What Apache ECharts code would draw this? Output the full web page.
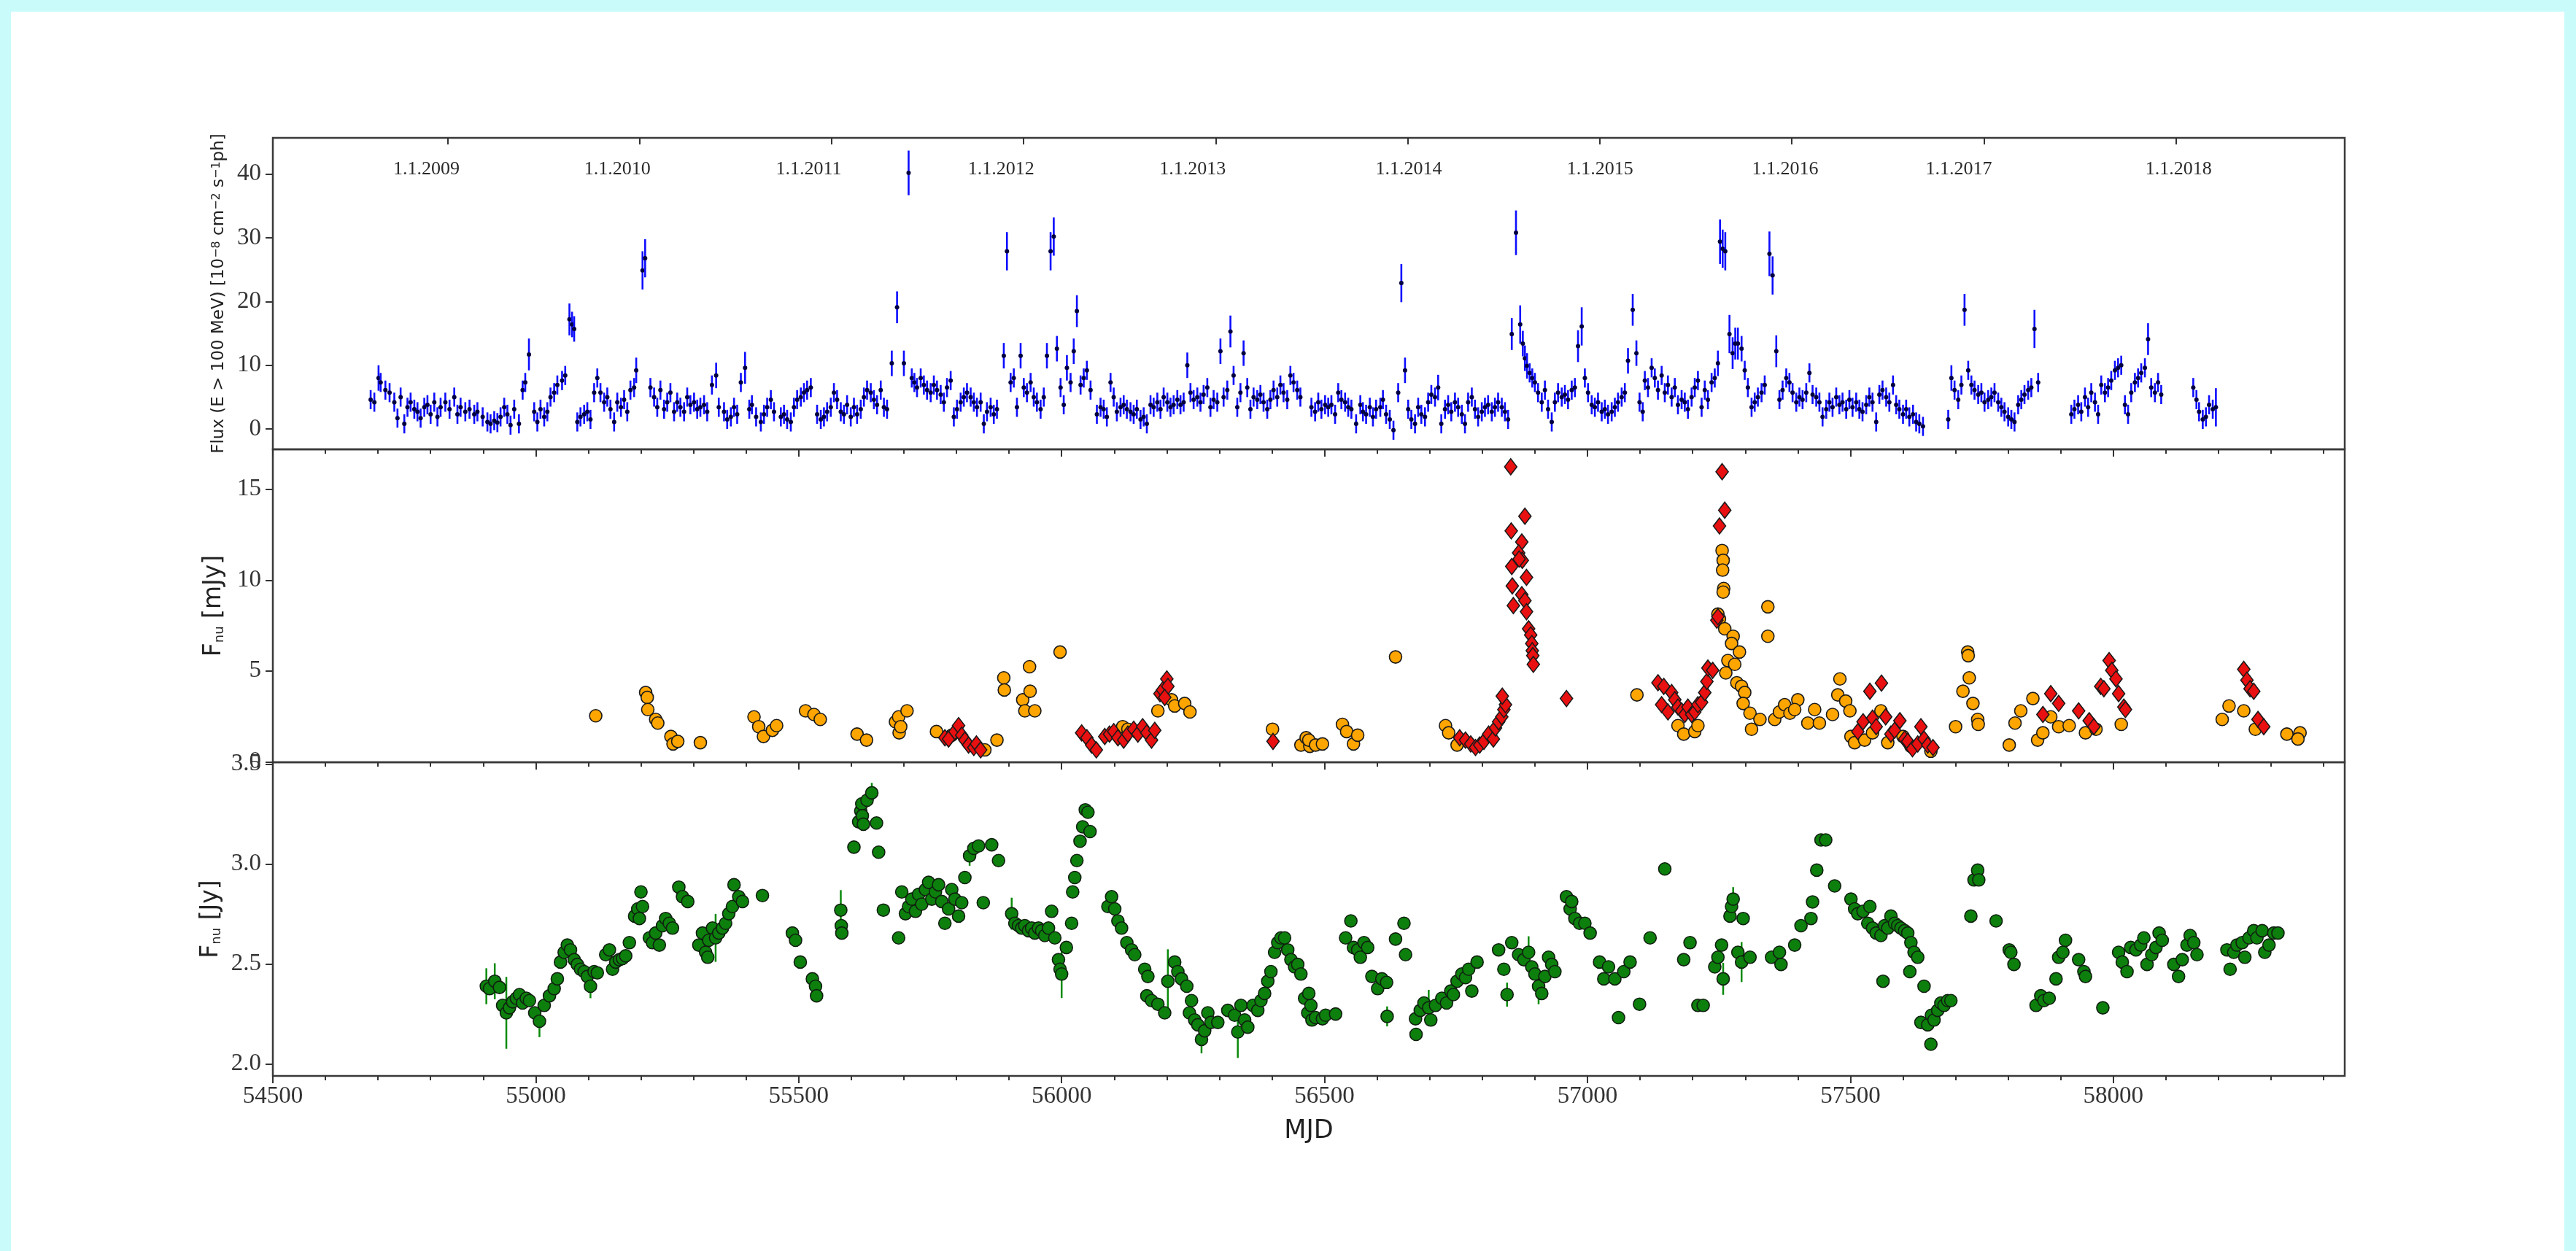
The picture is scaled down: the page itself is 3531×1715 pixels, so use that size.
<!DOCTYPE html>
<html>
<head>
<meta charset="utf-8">
<script src="https://cdn.jsdelivr.net/npm/echarts@6/dist/echarts.min.js"></script>
<style>
html,body{margin:0;padding:0;background:#c9fbfb;width:3531px;height:1715px;overflow:hidden;}
#paper{position:absolute;left:15px;top:16px;width:3500px;height:1699px;background:#ffffff;}
#chart{position:absolute;left:0;top:0;width:3531px;height:1715px;}
</style>
</head>
<body>
<div id="paper"></div>
<div id="chart"></div>
<script>
// ---------------- data ----------------
const xMajorTicks = [54500, 55000, 55500, 56000, 56500, 57000, 57500, 58000];
const xMinorTicks = [54600,54700,54800,54900,55100,55200,55300,55400,55600,55700,55800,55900,56100,56200,56300,56400,56600,56700,56800,56900,57100,57200,57300,57400,57600,57700,57800,57900,58100,58200,58300,58400];
const yearTickMjd = [54832, 55197, 55562, 55927, 56293, 56658, 57023, 57388, 57754, 58119];
const yearLabelMjd = [54792, 55155, 55519, 55885, 56249, 56660, 57024, 57376, 57706, 58124];
const yearLabels = ['1.1.2009','1.1.2010','1.1.2011','1.1.2012','1.1.2013','1.1.2014','1.1.2015','1.1.2016','1.1.2017','1.1.2018'];
const gammaTicks = [0, 10, 20, 30, 40];
const opticalTicks = [0, 5, 10, 15];
const radioTicks = [2.0, 2.5, 3.0, 3.5];

// gamma-ray flux [MJD, flux, (error)]
const gammaFlux = [
[54686,4.6],[54693,4.2],[54701,8.0,2],[54705,7.3],[54714,6.1],[54722,5.7],[54731,4.2],[54737,1.7],[54743,5.0],[54750,0.8],[54756,3.4],[54762,4.2],[54769,3.1],[54775,2.7],[54781,1.7],[54788,3.4],[54794,3.8],[54800,2.3],[54807,4.2],[54813,1.9],[54819,3.4],[54828,4.2],[54836,3.1],[54845,5.0],[54851,2.3],[54857,3.4],[54866,2.7],[54874,3.1],[54883,2.3],[54889,2.7],[54899,1.9],[54908,1.1],[54914,0.8],[54921,1.3],[54927,1.0],[54933,1.9],[54940,3.4],[54946,2.3],[54952,0.6],[54959,3.1],[54968,0.8],[54975,6.1],[54980,7.3],[54987,11.7,2.5],[54997,2.7],[55003,1.1],[55009,3.1],[55016,1.9],[55022,2.7],[55028,5.0],[55035,5.7],[55041,6.9],[55050,7.6],[55056,8.4],[55064,17.2,2.5],[55069,16.4,2],[55073,15.7,2],[55079,1.1],[55085,1.9],[55092,2.3],[55098,2.7],[55104,1.5],[55111,5.7],[55117,8.0],[55123,5.7],[55130,4.2],[55136,5.0],[55142,3.1],[55149,1.1],[55155,4.2],[55162,3.4],[55168,4.6],[55174,2.7],[55180,6.1],[55187,6.5],[55191,9.2,2],[55203,24.9,3],[55208,26.8,3],[55218,6.5],[55225,5.0],[55231,3.4],[55237,6.1],[55244,3.1],[55250,4.2],[55256,5.7],[55263,2.7],[55269,4.2],[55275,3.4],[55282,2.7],[55288,5.0],[55294,3.8],[55301,4.2],[55307,3.1],[55313,3.4],[55320,3.8],[55326,2.7],[55335,6.9],[55343,8.4,2],[55348,3.4],[55358,2.7],[55364,1.5],[55371,1.9],[55377,3.4],[55383,2.3],[55390,7.3],[55398,9.6,2.5],[55406,3.1],[55411,3.8],[55419,1.9],[55428,1.1],[55434,2.3],[55440,3.4],[55447,4.6],[55453,2.7],[55466,1.9],[55472,2.3],[55478,1.5],[55485,1.1],[55491,3.4],[55497,4.6],[55504,5.0],[55510,5.7],[55516,6.1],[55523,6.5],[55535,2.3],[55542,1.5],[55548,1.9],[55554,2.7],[55561,3.4],[55567,5.7],[55573,4.6],[55580,2.7],[55586,2.3],[55592,3.8],[55599,1.9],[55605,3.4],[55611,2.3],[55618,3.1],[55624,5.0],[55630,6.1],[55637,5.7],[55643,4.6],[55649,3.8],[55656,6.1],[55662,3.4],[55668,3.1],[55677,10.3,2],[55687,19.1,2.5],[55700,10.3,2],[55709,40.2,3.5],[55715,8.0],[55720,7.3],[55725,6.5],[55732,8.0],[55738,6.9],[55744,6.1],[55751,5.7],[55757,6.9],[55763,6.1],[55770,5.4],[55776,4.2],[55782,6.5],[55789,7.6],[55795,1.9],[55801,3.1],[55808,4.2],[55814,5.0],[55820,5.7],[55827,5.0],[55833,4.2],[55839,3.4],[55846,4.2],[55852,0.8],[55858,2.7],[55865,3.4],[55871,2.3],[55877,3.1],[55890,11.5,2],[55896,27.9,3],[55903,7.3],[55909,8.0],[55915,3.4],[55922,11.5,2],[55928,6.5],[55934,5.7],[55941,7.3],[55947,5.0],[55953,4.2],[55960,3.1],[55966,5.0],[55972,11.5,2],[55979,27.9,3],[55985,30.2,3],[55991,12.6,2],[55998,6.5],[56004,3.8],[56010,9.6,2],[56017,7.3],[56023,12.2,2],[56029,18.5,2.5],[56036,6.9],[56042,8.0],[56048,9.2],[56055,6.1],[56067,2.3],[56074,3.4],[56080,3.1],[56086,1.9],[56093,7.3],[56099,5.0],[56105,2.7],[56112,3.4],[56118,3.8],[56124,3.1],[56131,2.7],[56137,2.3],[56143,3.1],[56150,1.5],[56156,1.9],[56162,0.8],[56169,3.8],[56175,3.4],[56182,4.2],[56188,3.1],[56194,5.0],[56201,4.2],[56207,3.4],[56213,3.8],[56220,4.6],[56226,3.8],[56232,4.2],[56239,10.0,2],[56245,5.7],[56251,4.6],[56258,5.0],[56264,4.2],[56270,5.4],[56277,6.5],[56283,3.4],[56289,4.6],[56296,4.2],[56302,12.2,2],[56308,5.0],[56315,6.1],[56321,15.3,2.5],[56327,8.4],[56334,3.4],[56340,5.7],[56346,11.9,2],[56353,6.5],[56359,3.1],[56365,5.0],[56372,4.6],[56378,5.4],[56384,4.2],[56391,3.1],[56397,4.6],[56403,6.1],[56410,5.0],[56416,6.9],[56422,5.7],[56429,4.6],[56435,8.4],[56441,7.3],[56448,6.1],[56454,5.0],
[56475,3.4],[56482,2.7],[56488,4.2],[56494,3.1],[56501,3.8],[56507,3.4],[56513,3.8],[56520,2.3],[56526,5.7],[56532,4.6],[56539,4.2],[56545,3.4],[56551,3.1],[56560,0.8],[56568,3.8],[56573,2.7],[56579,2.3],[56586,3.4],[56592,1.9],[56598,3.1],[56606,3.4],[56611,4.6],[56617,2.3],[56624,1.5],[56631,-0.2],[56640,5.7],[56646,22.9,3],[56653,9.2,2],[56659,3.1],[56665,1.5],[56672,0.8],[56678,3.4],[56684,2.3],[56691,1.9],[56697,4.2],[56703,5.4],[56710,5.0],[56716,6.5,2],[56722,0.8],[56729,3.1],[56735,3.8],[56741,2.7],[56748,4.2],[56754,3.4],[56761,2.3],[56767,0.8],[56773,4.2],[56780,5.0],[56786,3.1],[56792,1.9],[56799,2.7],[56805,3.4],[56811,3.8],[56818,2.7],[56824,3.4],[56830,4.2],[56837,3.4],[56843,2.7],[56849,1.5],[56856,14.9,2.5],[56864,30.8,3.5],[56872,16.4,3],[56877,13.4,2],[56881,11.1,2],[56885,9.9,2],[56890,8.8],[56895,8.0],[56900,7.3],[56906,5.7],[56913,4.2],[56919,6.1],[56925,3.1],[56932,1.1],[56938,4.2],[56944,5.7],[56951,5.0],[56957,5.4],[56963,4.6],[56970,6.1],[56976,6.5],[56982,13.0,2.5],[56989,16.1,3],[56995,8.0],[57001,5.7],[57008,3.8],[57014,3.4],[57020,4.2],[57027,2.7],[57033,3.1],[57039,2.3],[57046,2.7],[57052,3.4],[57058,4.2],[57065,5.0],[57071,5.7],[57077,10.7,2],[57086,18.7,2.5],[57093,11.9,2],[57099,4.2],[57105,2.7],[57109,7.6],[57115,6.5],[57122,9.6],[57128,8.0],[57134,6.1],[57141,8.4],[57147,5.7],[57153,6.9],[57160,5.0],[57166,6.5],[57172,3.8],[57179,4.6],[57185,4.2],[57191,3.1],[57198,5.0],[57204,6.5],[57210,7.6],[57217,3.4],[57223,6.1],[57229,4.6],[57236,7.3],[57242,8.0],[57248,10.3,2],[57252,29.4,3.5],[57257,28.3,3],[57262,27.9,3],[57270,14.9,3],[57276,11.9,2.5],[57281,13.4,2.5],[57286,13.4,2.5],[57293,12.6,2],[57299,9.2],[57305,6.5],[57312,3.4],[57318,4.2],[57324,5.0],[57331,5.7],[57337,6.9],[57346,27.5,3.5],[57352,24.1,3],[57359,12.2,2.5],[57365,4.6],[57371,6.1],[57378,8.0],[57384,7.3],[57390,5.7],[57397,4.2],[57403,5.0],[57409,4.6],[57416,5.7],[57422,8.8],[57428,5.4],[57435,5.0],[57441,4.2],[57447,1.9],[57454,3.1],[57460,4.2],[57466,3.4],[57473,5.0],[57479,3.8],[57485,4.2],[57492,3.1],[57498,4.6],[57504,3.4],[57511,4.2],[57517,3.1],[57523,2.7],[57530,3.8],[57536,5.0],[57542,4.2],[57549,1.1],[57555,5.4],[57561,6.1],[57568,5.0],[57574,4.2],[57581,6.9],[57587,3.8],[57593,3.1],[57600,2.3],[57606,3.1],[57612,1.9],[57619,2.3],[57625,1.1],[57631,0.8],[57638,0.4],[57686,1.5],[57692,8.0,2],[57698,6.1],[57705,4.6],[57711,6.9],[57717,18.7,2.5],[57724,9.2],[57730,6.9],[57736,6.1],[57743,5.4],[57749,5.7],[57755,4.2],[57762,4.6],[57768,5.0],[57774,5.7],[57781,4.2],[57787,3.4],[57793,2.7],[57800,1.9],[57806,1.5],[57812,1.1],[57819,3.8],[57825,4.6],[57831,5.4],[57838,6.1],[57844,6.5],[57850,15.7,3],[57857,7.3],[57920,2.3],[57926,3.1],[57933,3.8],[57939,2.7],[57946,5.0],[57952,3.4],[57958,5.7],[57965,4.2],[57971,2.3],[57977,6.9],[57984,5.7],[57990,6.5],[57996,7.6],[58003,9.2],[58009,9.6],[58015,10.0],[58022,3.8],[58028,2.3],[58034,5.7],[58041,7.3],[58047,8.0],[58053,8.8],[58060,9.6],[58066,14.1,2.5],[58072,6.5],[58079,5.7],[58085,7.3],[58091,5.4],[58152,6.5],[58158,4.6],[58163,2.7],[58170,1.5],[58176,1.9],[58182,3.8],[58189,3.1],[58195,3.4,3]
];
const gammaErrDefault = 1.5;

// optical flux density, orange circles [MJD, mJy]
const opticalOrange = [
[55114,2.53],[55209,3.81],[55212,3.54],[55213,2.87],[55228,2.33],[55232,2.13],[55257,1.39],[55261,0.98],[55270,1.12],[55313,1.05],[55415,2.47],[55424,1.93],[55433,1.39],[55450,1.73],[55458,1.99],[55513,2.80],[55529,2.60],[55541,2.33],[55611,1.52],[55629,1.19],[55684,2.20],[55690,2.47],[55691,1.59],[55694,1.93],[55706,2.80],[55762,1.66],[55791,1.46],[55854,0.65],[55877,1.19],[55890,4.62],[55891,3.95],[55926,3.41],[55930,2.80],[55939,5.23],[55940,3.88],[55949,2.80],[55997,6.04],[56116,1.93],[56126,1.79],[56183,2.80],[56209,3.41],[56215,3.07],[56234,3.21],[56244,2.74],[56401,1.79],[56455,0.92],[56465,1.32],[56472,0.85],
[56470,1.19],[56483,0.92],[56496,0.98],[56534,2.06],[56542,1.66],[56555,0.98],[56563,1.46],[56635,5.77],[56730,1.99],[56736,1.59],[56752,0.92],[57094,3.68],[57172,1.99],[57183,1.52],[57204,1.66],[57210,1.99],[57256,11.63],[57258,11.09],[57257,10.55],[57259,9.54],[57258,9.34],[57248,8.13],[57251,7.86],[57261,7.32],[57277,6.91],[57274,6.51],[57289,6.04],[57267,5.57],[57280,5.36],[57263,4.89],[57284,4.35],[57293,4.15],[57299,3.81],[57296,3.21],[57309,2.67],[57328,2.33],[57312,1.79],[57343,8.53],[57343,6.91],[57356,2.33],[57365,2.74],[57375,3.14],[57385,2.67],[57400,3.41],[57394,2.87],[57419,2.13],[57432,2.87],[57441,2.13],[57466,2.60],[57480,4.56],[57476,3.68],[57491,3.34],[57499,2.80],[57501,1.39],[57508,1.05],[57527,1.19],[57542,1.59],[57558,2.80],[57571,1.05],[57600,1.39],[57615,0.85],[57653,0.58],[57700,1.93],[57723,6.04],[57724,5.84],[57726,4.62],[57714,3.88],[57733,3.21],[57742,2.33],[57743,2.06],[57802,0.92],[57813,2.13],[57824,2.80],[57847,3.48],[57856,1.19],[57866,1.59],[57881,2.47],[57896,1.93],[57916,1.99],[57947,1.59],[57967,1.79],[58015,2.06],[58207,2.33],[58220,3.07],[58248,2.80],[58270,1.79],[58330,1.52],[58355,1.59],[58351,1.25]
];

// optical flux density, red diamonds [MJD, mJy]
const opticalRed = [
[55778,1.32],[55785,1.25],[55797,1.66],[55804,1.99],[55810,1.46],[55816,1.19],[55823,0.92],[55833,0.78],[55838,0.98],[55846,0.65],[56038,1.59],[56048,1.32],[56057,0.92],[56066,0.65],[56082,1.39],[56091,1.52],[56099,1.66],[56107,1.32],[56118,1.19],[56126,1.52],[56137,1.79],[56145,1.52],[56154,1.93],[56162,1.59],[56171,1.19],[56177,1.73],[56187,3.75],[56192,3.95],[56200,4.56],[56202,4.15],[56196,3.54],[56402,1.12],
[56757,1.32],[56768,1.19],[56778,0.98],[56787,0.78],[56795,0.92],[56803,1.12],[56812,1.52],[56821,1.25],[56825,1.86],[56831,2.20],[56837,2.47],[56841,2.87],[56844,3.14],[56838,3.61],[56854,16.24],[56855,12.71],[56881,13.52],[56875,12.10],[56869,11.50],[56876,11.09],[56856,10.75],[56884,10.15],[56857,9.68],[56875,9.20],[56881,8.87],[56859,8.60],[56884,8.26],[56888,7.32],[56892,6.98],[56894,6.51],[56895,6.11],[56896,5.84],[56897,5.36],[56870,11.16],[56960,3.48],
[57134,4.35],[57145,4.15],[57141,3.14],[57153,2.74],[57160,3.81],[57166,3.41],[57172,3.01],[57179,2.80],[57185,2.60],[57191,3.01],[57198,2.60],[57204,2.74],[57210,3.14],[57217,3.27],[57223,3.81],[57227,4.42],[57229,5.16],[57238,5.03],[57246,7.79],[57248,7.99],[57256,15.97],[57261,13.85],[57251,12.98],
[57514,1.66],[57524,2.20],[57537,3.88],[57542,2.40],[57549,1.93],[57559,4.33],[57567,2.47],[57577,1.52],[57584,1.73],[57594,2.26],[57603,1.25],[57609,1.12],[57618,0.71],[57628,0.98],[57634,1.93],[57640,1.25],[57647,0.92],[57657,0.78],
[57866,2.60],[57881,3.75],[57896,3.21],[57934,2.80],[57954,2.26],[57963,1.93],[57976,4.15],[57982,4.02],[57992,5.57],[57997,5.03],[58005,4.56],[58010,3.75],[58020,3.01],[58023,2.87],
[58248,5.09],[58254,4.49],[58260,4.02],[58267,3.88],[58275,2.33],[58286,1.93]
];

// radio flux density [MJD, Jy, (error)]
const radioFlux = [
[54906,2.389,0.09],[54912,2.377],[54922,2.414,0.09],[54931,2.383],[54937,2.293],[54944,2.256,0.18],[54950,2.281],[54956,2.311],[54963,2.329],[54969,2.347],[54975,2.305],[54982,2.329],[54988,2.317],[54998,2.256],[55007,2.214,0.08],[55016,2.293],[55026,2.341],[55035,2.377],[55041,2.426],[55047,2.510],[55054,2.559],[55060,2.595],[55066,2.571],[55073,2.522],[55079,2.498],[55085,2.474],[55092,2.462],[55098,2.438],[55104,2.389,0.06],[55111,2.462],[55117,2.456],[55133,2.547],[55140,2.571],[55146,2.474],[55152,2.510],[55159,2.522],[55165,2.528],[55171,2.541],[55178,2.607],[55188,2.740],[55194,2.776],[55197,2.728],[55200,2.861],[55203,2.788],[55216,2.631],[55222,2.607],[55228,2.655],[55235,2.595],[55241,2.692],[55247,2.728],[55254,2.704],[55260,2.680],[55272,2.885],[55279,2.837],[55289,2.813],[55310,2.595],[55317,2.655],[55323,2.559],[55327,2.534],[55329,2.619],[55336,2.680],[55342,2.631,0.12],[55348,2.655],[55355,2.680],[55361,2.704],[55367,2.752],[55374,2.788],[55377,2.897],[55386,2.837],[55393,2.813],[55431,2.843],[55488,2.655],[55494,2.619],[55503,2.510],[55526,2.426],[55532,2.389],[55534,2.341],[55580,2.770,0.1],[55581,2.692],[55582,2.655],[55605,3.085],[55614,3.212],[55618,3.266],[55620,3.302],[55621,3.242],[55623,3.200],[55630,3.320],[55639,3.357,0.05],[55648,3.206],[55652,3.060],[55661,2.770],[55690,2.631],[55696,2.861],[55703,2.752],[55709,2.788],[55715,2.825],[55722,2.764],[55728,2.849],[55734,2.800],[55741,2.873],[55747,2.909],[55753,2.825],[55760,2.861],[55766,2.897],[55772,2.813],[55778,2.704],[55785,2.776],[55791,2.873],[55797,2.825],[55804,2.740],[55810,2.807],[55816,2.933],[55825,3.042,0.05],[55833,3.079],[55842,3.091],[55851,2.807],[55867,3.097],[55880,3.018],[55905,2.752,0.08],[55911,2.704],[55918,2.692],[55924,2.680],[55930,2.692],[55937,2.667],[55943,2.680],[55949,2.655],[55956,2.680],[55962,2.667],[55968,2.643],[55975,2.680],[55981,2.764],[55987,2.631],[55994,2.522],[55997,2.474],[56000,2.450,0.12],[56009,2.583],[56019,2.704],[56021,2.861],[56025,2.933],[56029,3.018],[56035,3.115],[56040,3.187],[56045,3.272],[56050,3.260],[56054,3.163],[56088,2.788],[56095,2.837],[56101,2.776],[56107,2.716],[56114,2.680],[56124,2.607],[56133,2.571],[56139,2.547],[56158,2.474],[56164,2.438],[56162,2.341],[56171,2.317],[56183,2.299],[56196,2.256],[56202,2.414,0.16],[56215,2.510],[56221,2.462],[56228,2.426],[56238,2.389],[56247,2.317],[56243,2.256],[56253,2.220],[56259,2.196],[56266,2.123,0.07],[56272,2.166],[56278,2.256],[56284,2.208],[56297,2.208],[56316,2.268],[56329,2.244],[56335,2.160,0.13],[56341,2.293],[56348,2.220],[56354,2.184],[56364,2.293],[56373,2.268],[56379,2.317],[56386,2.353],[56392,2.414],[56398,2.462],[56405,2.559],[56411,2.607],[56417,2.631],[56424,2.631],[56430,2.571],[56436,2.522],[56443,2.486],[56449,2.498],[56455,2.450],[56462,2.329],[56468,2.256],[56474,2.293],
[56470,2.353],[56476,2.220],[56483,2.232],[56496,2.226],[56502,2.244],[56521,2.250],[56540,2.631],[56550,2.716],[56555,2.583],[56563,2.571],[56568,2.534],[56575,2.607],[56582,2.583],[56590,2.438],[56601,2.377],[56609,2.426],[56618,2.408],[56619,2.238,0.05],[56635,2.625],[56651,2.704],[56654,2.547],[56673,2.226],[56674,2.148],[56682,2.268],[56689,2.305],[56698,2.281,0.09],[56702,2.220],[56711,2.293],[56723,2.329],[56732,2.305],[56740,2.365],[56745,2.347],[56752,2.414],[56761,2.450],[56768,2.432],[56774,2.474],[56780,2.365],[56790,2.510],[56831,2.571],[56841,2.474],[56847,2.347,0.06],[56856,2.607],[56869,2.547],[56879,2.522],[56888,2.559,0.08],[56894,2.486],[56900,2.450],[56907,2.389,0.09],[56913,2.353],[56919,2.438],[56926,2.534],[56932,2.498],[56938,2.462],[56960,2.837],[56967,2.776],[56970,2.813],[56976,2.728],[56985,2.704],[56995,2.704],[57005,2.655],[57023,2.510],[57031,2.426],[57040,2.486],[57052,2.426],[57059,2.232],[57069,2.462],[57081,2.510],[57099,2.299],[57119,2.631],[57147,2.976],[57183,2.522],[57195,2.607],[57210,2.293],[57220,2.293],[57242,2.486],[57248,2.534],[57255,2.595],[57258,2.426,0.08],[57271,2.740],[57274,2.788],[57277,2.825,0.06],[57286,2.559],[57293,2.510,0.1],[57296,2.728],[57309,2.534],[57350,2.534],[57365,2.559],[57368,2.498],[57394,2.595],[57406,2.692],[57425,2.728],[57428,2.811],[57436,2.970],[57444,3.121],[57453,3.121],[57470,2.891],[57501,2.825],[57508,2.776],[57514,2.752],[57524,2.764],[57533,2.704],[57537,2.788],[57542,2.680],[57549,2.655],[57558,2.643],[57562,2.414],[57565,2.692],[57571,2.680],[57577,2.740],[57584,2.704],[57590,2.692],[57596,2.680],[57603,2.667],[57609,2.655],[57613,2.462],[57615,2.607],[57621,2.559],[57628,2.534],[57634,2.208],[57640,2.389],[57647,2.196],[57653,2.099],[57654,2.244],[57659,2.220],[57666,2.268],[57672,2.305],[57678,2.293],[57685,2.317],[57691,2.317],[57729,2.740],[57735,2.921],[57742,2.970],[57744,2.921],[57777,2.716],[57802,2.571],[57805,2.559],[57811,2.498],[57853,2.293],[57862,2.341],[57868,2.317],[57878,2.329],[57891,2.426],[57896,2.534],[57904,2.559],[57909,2.619],[57934,2.522],[57944,2.462],[57947,2.438],[57980,2.281],[58010,2.559],[58017,2.510],[58026,2.462],[58033,2.583],[58043,2.571],[58052,2.595],[58058,2.631],[58064,2.498],[58073,2.547],[58081,2.583],[58087,2.655],[58093,2.619],[58115,2.498],[58124,2.438],[58131,2.522],[58140,2.595],[58146,2.643],[58153,2.607],[58159,2.547],[58216,2.571],[58222,2.474],[58229,2.559],[58235,2.595],[58245,2.607],[58250,2.534],[58258,2.631],[58267,2.667],[58273,2.631],[58283,2.667],[58288,2.559],[58296,2.595],[58305,2.655],[58313,2.655]
];
const radioErrDefault = 0.03;

// ---------------- chart ----------------
const X_MIN = 54500, X_MAX = 58440;
const SERIF = '"Liberation Serif", "DejaVu Serif", serif';
const SANS = '"DejaVu Sans", "Liberation Sans", sans-serif';
const AX = '#333333';
const GRID_L = 374, GRID_W = 2840;

function withErr(arr, def) { return arr.map(d => [d[0], d[1], d.length > 2 ? d[2] : def]); }

function errRender(color, lw, dot) {
  return function (params, api) {
    const x = api.value(0), y = api.value(1), e = api.value(2);
    const p0 = api.coord([x, y - e]), p1 = api.coord([x, y + e]);
    const ch = [{ type: 'line', shape: { x1: p0[0], y1: p0[1], x2: p1[0], y2: p1[1] }, style: { stroke: color, lineWidth: lw } }];
    if (dot) {
      const pc = api.coord([x, y]);
      ch.push({ type: 'circle', shape: { cx: pc[0], cy: pc[1], r: dot.r }, style: { fill: dot.color } });
    }
    return { type: 'group', children: ch };
  };
}

function xMajor(grid, showLabel) {
  return {
    type: 'value', gridIndex: grid, position: 'bottom', min: X_MIN, max: X_MAX,
    axisLine: { show: false, onZero: false },
    splitLine: { show: false },
    axisTick: { show: true, inside: false, length: 10, customValues: xMajorTicks, lineStyle: { color: AX, width: 2 } },
    axisLabel: { show: showLabel, customValues: xMajorTicks, margin: 12, fontFamily: SERIF, fontSize: 33, color: AX, formatter: v => String(v) }
  };
}
function xMinor(grid) {
  return {
    type: 'value', gridIndex: grid, position: 'bottom', min: X_MIN, max: X_MAX,
    axisLine: { show: false, onZero: false },
    splitLine: { show: false },
    axisTick: { show: true, inside: false, length: 6, customValues: xMinorTicks, lineStyle: { color: AX, width: 2 } },
    axisLabel: { show: false }
  };
}
function yAx(grid, min, max, ticks, name, nameGap, rich, fmt) {
  return {
    type: 'value', gridIndex: grid, min: min, max: max, position: 'left',
    axisLine: { show: false, onZero: false },
    splitLine: { show: false },
    axisTick: { show: true, inside: false, length: 10, customValues: ticks, lineStyle: { color: AX, width: 2 } },
    axisLabel: { customValues: ticks, margin: 16, fontFamily: SERIF, fontSize: 33, color: AX, formatter: fmt },
    name: name, nameLocation: 'middle', nameRotate: 90, nameGap: nameGap,
    nameTextStyle: { rich: rich }
  };
}

const gridBase = { left: GRID_L, width: GRID_W, show: true, borderColor: '#3a3a3a', borderWidth: 2.5, backgroundColor: 'transparent' };

const option = {
  animation: false,
  backgroundColor: 'transparent',
  grid: [
    Object.assign({ top: 189, height: 427 }, gridBase),
    Object.assign({ top: 616, height: 429 }, gridBase),
    Object.assign({ top: 1045, height: 430 }, gridBase)
  ],
  xAxis: [
    xMajor(0, false), xMinor(0),
    {
      type: 'value', gridIndex: 0, position: 'top', min: X_MIN, max: X_MAX,
      axisLine: { show: false, onZero: false }, splitLine: { show: false },
      axisTick: { show: true, inside: true, length: 9, customValues: yearTickMjd, lineStyle: { color: AX, width: 2 } },
      axisLabel: { show: true, inside: true, margin: 30, customValues: yearLabelMjd, fontFamily: SERIF, fontSize: 26, color: '#2a2a2a',
        formatter: v => { const i = yearLabelMjd.indexOf(v); return i >= 0 ? yearLabels[i] : ''; } }
    },
    xMajor(1, false), xMinor(1),
    Object.assign(xMajor(2, true), { name: 'MJD', nameLocation: 'middle', nameGap: 58,
      nameTextStyle: { fontFamily: SANS, fontSize: 35, color: '#222', verticalAlign: 'top' } }),
    xMinor(2)
  ],
  yAxis: [
    yAx(0, -3.2, 45.7, gammaTicks,
      '{a|Flux (E > 100 MeV) [10}{s|−8}{a| cm}{s|−2}{a| s}{s|−1}{a|ph]}', 62,
      { a: { fontFamily: SANS, fontSize: 23, color: '#222', verticalAlign: 'bottom', padding: [0, 0, 0, 0] },
        s: { fontFamily: SANS, fontSize: 16, color: '#222', verticalAlign: 'top' } },
      v => String(v)),
    yAx(1, -0.03, 17.2, opticalTicks, '{a|F}{s|nu}{a| [mJy]}', 64,
      { a: { fontFamily: SANS, fontSize: 33, color: '#222', verticalAlign: 'top' },
        s: { fontFamily: SANS, fontSize: 18, color: '#222', verticalAlign: 'bottom' } },
      v => String(v)),
    yAx(2, 1.94, 3.51, radioTicks, '{a|F}{s|nu}{a| [Jy]}', 64,
      { a: { fontFamily: SANS, fontSize: 33, color: '#222', verticalAlign: 'top' },
        s: { fontFamily: SANS, fontSize: 18, color: '#222', verticalAlign: 'bottom' } },
      v => v.toFixed(1))
  ],
  series: [
    {
      name: 'gamma', type: 'custom', xAxisIndex: 0, yAxisIndex: 0, clip: true,
      data: withErr(gammaFlux, gammaErrDefault), encode: { x: 0, y: 1 },
      renderItem: errRender('#0c0cff', 2.6, { r: 3, color: '#000040' })
    },
    {
      name: 'optical orange', type: 'scatter', xAxisIndex: 3, yAxisIndex: 1,
      data: opticalOrange, symbol: 'circle', symbolSize: 17,
      itemStyle: { color: '#ffa500', borderColor: '#1a1a1a', borderWidth: 1.6, opacity: 1 }
    },
    {
      name: 'optical red', type: 'scatter', xAxisIndex: 3, yAxisIndex: 1,
      data: opticalRed, symbol: 'diamond', symbolSize: [17, 22],
      itemStyle: { color: '#e81010', borderColor: '#1a1a1a', borderWidth: 1.6, opacity: 1 }
    },
    {
      name: 'radio err', type: 'custom', xAxisIndex: 5, yAxisIndex: 2, clip: true,
      data: withErr(radioFlux, radioErrDefault), encode: { x: 0, y: 1 },
      renderItem: errRender('#0a8a0a', 2.5, null)
    },
    {
      name: 'radio', type: 'scatter', xAxisIndex: 5, yAxisIndex: 2,
      data: radioFlux.map(d => [d[0], d[1]]), symbol: 'circle', symbolSize: 17,
      itemStyle: { color: '#0d7f0d', borderColor: '#102010', borderWidth: 1.6, opacity: 1 }
    }
  ]
};

const chart = echarts.init(document.getElementById('chart'), null, { renderer: 'canvas', width: 3531, height: 1715 });
chart.setOption(option);
</script>
</body>
</html>
